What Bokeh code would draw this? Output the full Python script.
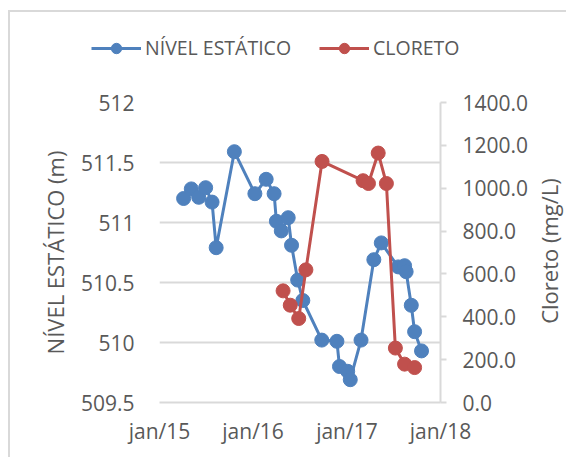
import math
import pandas as pd
from bokeh.plotting import figure
from bokeh.models import (Range1d, LinearAxis, FixedTicker, Legend, LegendItem,
                          DatetimeAxis, Label)
from bokeh.embed import file_html
from bokeh.resources import INLINE

# ---- data ----
blue_dates = ["2015-04-05", "2015-05-05", "2015-06-03", "2015-06-30", "2015-07-25",
              "2015-08-10", "2015-10-20", "2016-01-08", "2016-02-21", "2016-03-23",
              "2016-04-01", "2016-04-20", "2016-05-17", "2016-05-30", "2016-06-23",
              "2016-07-13", "2016-09-25", "2016-11-23", "2016-12-03", "2017-01-04",
              "2017-01-14", "2017-02-25", "2017-04-16", "2017-05-15", "2017-07-20",
              "2017-08-14", "2017-08-20", "2017-09-09", "2017-09-22", "2017-10-19"]
nivel = [511.20, 511.28, 511.21, 511.29, 511.17, 510.79, 511.59, 511.24, 511.36, 511.24,
         511.01, 510.93, 511.04, 510.81, 510.52, 510.35, 510.02, 510.01, 509.80, 509.76,
         509.69, 510.02, 510.69, 510.83, 510.63, 510.64, 510.59, 510.31, 510.09, 509.93]

red_dates = ["2016-04-27", "2016-05-25", "2016-06-27", "2016-07-25", "2016-09-26",
             "2017-03-05", "2017-03-26", "2017-05-03", "2017-06-04", "2017-07-09",
             "2017-08-14", "2017-09-22"]
cloreto = [521, 454, 392, 619, 1125, 1035, 1022, 1164, 1022, 254, 179, 163]

x_tick_dates = ["2015-01-01", "2016-01-01", "2017-01-01", "2018-01-01"]
x_tick_labels = ["jan/15", "jan/16", "jan/17", "jan/18"]
left_ticks = [509.5, 510, 510.5, 511, 511.5, 512]
left_tick_labels = ["509.5", "510", "510.5", "511", "511.5", "512"]
right_ticks = [0, 200, 400, 600, 800, 1000, 1200, 1400]
right_tick_labels = ["0.0", "200.0", "400.0", "600.0", "800.0", "1000.0", "1200.0", "1400.0"]

legend_labels = ["NÍVEL ESTÁTICO", "CLORETO"]
y_left_label = "NÍVEL ESTÁTICO (m)"
y_right_label = "Cloreto (mg/L)"

BLUE = "#4F81BD"
RED = "#C0504D"
TXT = "#595959"
GRID = "#D9D9D9"
FONT = "Open Sans"
TICK_FS = "21px"
LAB_FS = "22px"
LEG_FS = "19.5px"

W, H = 566, 457

bd = pd.to_datetime(blue_dates)
rd = pd.to_datetime(red_dates)
xt = pd.to_datetime(x_tick_dates)
xt_ms = [float(t.value // 10**6) for t in xt]

FRAME_CSS = ("linear-gradient(#D9D9D9,#D9D9D9) 8px 10px / 2px calc(100% - 10px) no-repeat, "
             "linear-gradient(#D9D9D9,#D9D9D9) 8px 10px / calc(100% - 8px) 2px no-repeat, "
             "#FFFFFF")

# ---------------- main chart (first root, normal flow) ----------------
p = figure(width=W, height=H, output_backend="svg", toolbar_location=None,
           x_axis_type=None, y_axis_location=None,
           x_range=Range1d(xt_ms[0], xt_ms[-1]),
           y_range=Range1d(left_ticks[0], left_ticks[-1]),
           min_border_left=159, min_border_right=126,
           min_border_top=102, min_border_bottom=55,
           styles={"background": FRAME_CSS})
p.outline_line_color = None
p.background_fill_color = "white"
p.border_fill_color = None
p.extra_y_ranges = {"cl": Range1d(right_ticks[0], right_ticks[-1])}

xax = DatetimeAxis(ticker=FixedTicker(ticks=xt_ms))
xax.major_label_overrides = {t: l for t, l in zip(xt_ms, x_tick_labels)}
xax.major_tick_line_color = None
xax.minor_tick_line_color = None
xax.axis_line_color = GRID
xax.axis_line_width = 2
xax.major_label_text_font = FONT
xax.major_label_text_font_size = TICK_FS
xax.major_label_text_color = TXT
xax.major_label_standoff = 8
p.add_layout(xax, "below")

lax = LinearAxis(ticker=FixedTicker(ticks=left_ticks))
lax.major_label_overrides = {t: l for t, l in zip(left_ticks, left_tick_labels)}
lax.axis_line_color = None
lax.major_tick_line_color = None
lax.minor_tick_line_color = None
lax.major_label_text_font = FONT
lax.major_label_text_font_size = TICK_FS
lax.major_label_text_color = TXT
lax.major_label_standoff = 19
lax.axis_label = y_left_label
lax.axis_label_text_font = FONT
lax.axis_label_text_font_size = LAB_FS
lax.axis_label_text_font_style = "normal"
lax.axis_label_text_color = TXT
lax.axis_label_standoff = 8
p.add_layout(lax, "left")

rax = LinearAxis(y_range_name="cl", ticker=FixedTicker(ticks=right_ticks))
rax.major_label_overrides = {t: l for t, l in zip(right_ticks, right_tick_labels)}
rax.axis_line_color = GRID
rax.axis_line_width = 2
rax.major_tick_line_color = GRID
rax.major_tick_line_width = 2
rax.major_tick_in = 0
rax.major_tick_out = 6
rax.minor_tick_line_color = None
rax.major_label_text_font = FONT
rax.major_label_text_font_size = TICK_FS
rax.major_label_text_color = TXT
rax.major_label_standoff = 16
p.add_layout(rax, "right")

p.xgrid.ticker = FixedTicker(ticks=xt_ms)
p.ygrid.ticker = FixedTicker(ticks=left_ticks)
p.grid.grid_line_color = GRID
p.grid.grid_line_width = 2

p.line(bd, nivel, line_color=BLUE, line_width=3)
p.scatter(bd, nivel, size=14, fill_color=BLUE, line_color=BLUE)
p.line(rd, cloreto, line_color=RED, line_width=3, y_range_name="cl")
p.scatter(rd, cloreto, size=14, fill_color=RED, line_color=RED, y_range_name="cl")

# ------- transparent overlay (second root): legend + right axis title -------
lf = figure(width=W, height=H, output_backend="svg", toolbar_location=None,
            x_axis_location=None, y_axis_location=None,
            x_range=Range1d(0, W), y_range=Range1d(0, H),
            min_border_left=0, min_border_right=0, min_border_top=0, min_border_bottom=0,
            styles={"position": "absolute", "left": "0px", "top": "0px"})
lf.outline_line_color = None
lf.background_fill_color = None
lf.border_fill_color = None
lf.xgrid.visible = False
lf.ygrid.visible = False
# same series, far outside this overlay's ranges: only their legend swatches show
lbl = lf.line(bd, nivel, line_color=BLUE, line_width=3)
lbs = lf.scatter(bd, nivel, size=14, fill_color=BLUE, line_color=BLUE)
lrl = lf.line(rd, cloreto, line_color=RED, line_width=3)
lrs = lf.scatter(rd, cloreto, size=14, fill_color=RED, line_color=RED)

legend = Legend(items=[LegendItem(label=legend_labels[0], renderers=[lbl, lbs]),
                       LegendItem(label=legend_labels[1], renderers=[lrl, lrs])],
                orientation="horizontal", location=(91, H - 61))
legend.padding = 0
legend.margin = 0
legend.spacing = 28
legend.glyph_width = 50
legend.glyph_height = 26
legend.label_standoff = 4
legend.border_line_color = None
legend.background_fill_alpha = 0
legend.label_text_font = FONT
legend.label_text_font_size = LEG_FS
legend.label_text_color = TXT
lf.add_layout(legend, "center")

right_title = Label(x=548, y=H - 250.5, text=y_right_label, angle=math.pi / 2,
                    text_align="center", text_baseline="middle",
                    text_font=FONT, text_font_size=LAB_FS, text_color=TXT)
lf.add_layout(right_title)

open("out.html", "w").write(file_html([p, lf], INLINE))
